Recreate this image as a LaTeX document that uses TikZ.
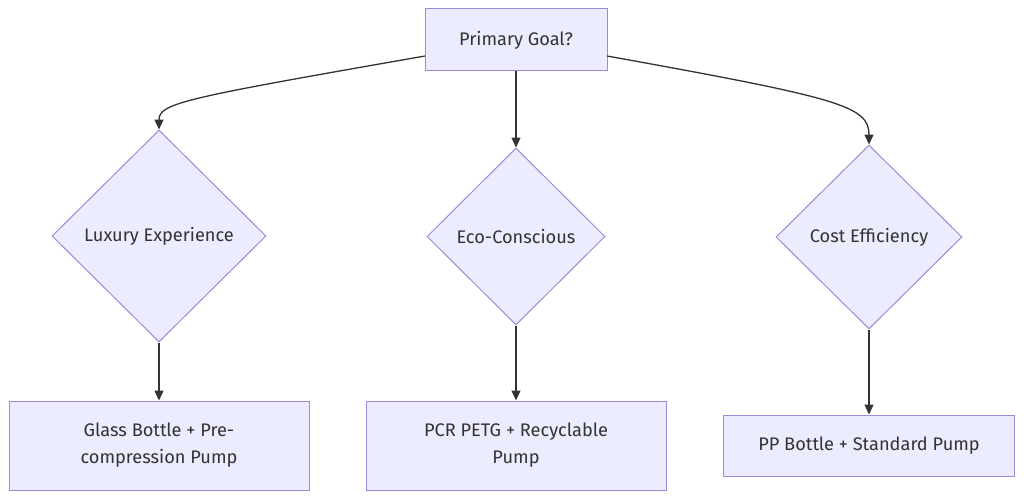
\documentclass[tikz,border=0pt]{standalone}
\usepackage{fontspec}
\setmainfont{Fira Sans}
\usetikzlibrary{shapes.geometric,arrows.meta}
\definecolor{nodefill}{HTML}{ECECFF}
\definecolor{nodeline}{HTML}{9C8AD6}
\definecolor{edge}{HTML}{333333}
\definecolor{txt}{HTML}{333333}
\tikzset{
  box/.style={draw=nodeline, fill=nodefill, line width=1pt, rectangle, inner sep=0pt, text=txt, align=center, font=\fontsize{18.2}{27}\selectfont},
  dia/.style={draw=nodeline, fill=nodefill, line width=1pt, diamond, inner sep=0pt, text=txt, align=center, font=\fontsize{18.2}{27}\selectfont},
  conn/.style={draw=edge, line width=1.3pt, -{Triangle[length=10pt,width=9pt]}}
}
\begin{document}
\begin{tikzpicture}[x=1pt,y=-1pt]
\useasboundingbox (0,0) rectangle (1024,500);
\node[box, minimum width=182pt, minimum height=62pt] (goal) at (516,40) {Primary Goal?};
\node[dia, minimum width=214pt, minimum height=212pt] (lux) at (159,236) {Luxury Experience};
\node[dia, minimum width=178pt, minimum height=177pt] (eco) at (516,236.5) {Eco-Conscious};
\node[dia, minimum width=186pt, minimum height=184pt] (cost) at (869,237) {Cost Efficiency};
\node[box, minimum width=300pt, minimum height=89pt] (glass) at (159,445.5) {Glass Bottle + Pre-\\compression Pump};
\node[box, minimum width=300pt, minimum height=89pt] (pcr) at (516,445.5) {PCR PETG + Recyclable\\Pump};
\node[box, minimum width=291pt, minimum height=61pt] (pp) at (869,445.5) {PP Bottle + Standard Pump};
\coordinate (gl) at (425,56);
\coordinate (gr) at (607,56);
\draw[conn] (gl) .. controls (185,98) and (159,103) .. (lux.north);
\draw[conn] (goal.south) -- (eco.north);
\draw[conn] (gr) .. controls (840,98) and (869,106) .. (cost.north);
\draw[conn] (lux.south) -- (glass.north);
\draw[conn] (eco.south) -- (pcr.north);
\draw[conn] (cost.south) -- (pp.north);
\end{tikzpicture}
\end{document}
